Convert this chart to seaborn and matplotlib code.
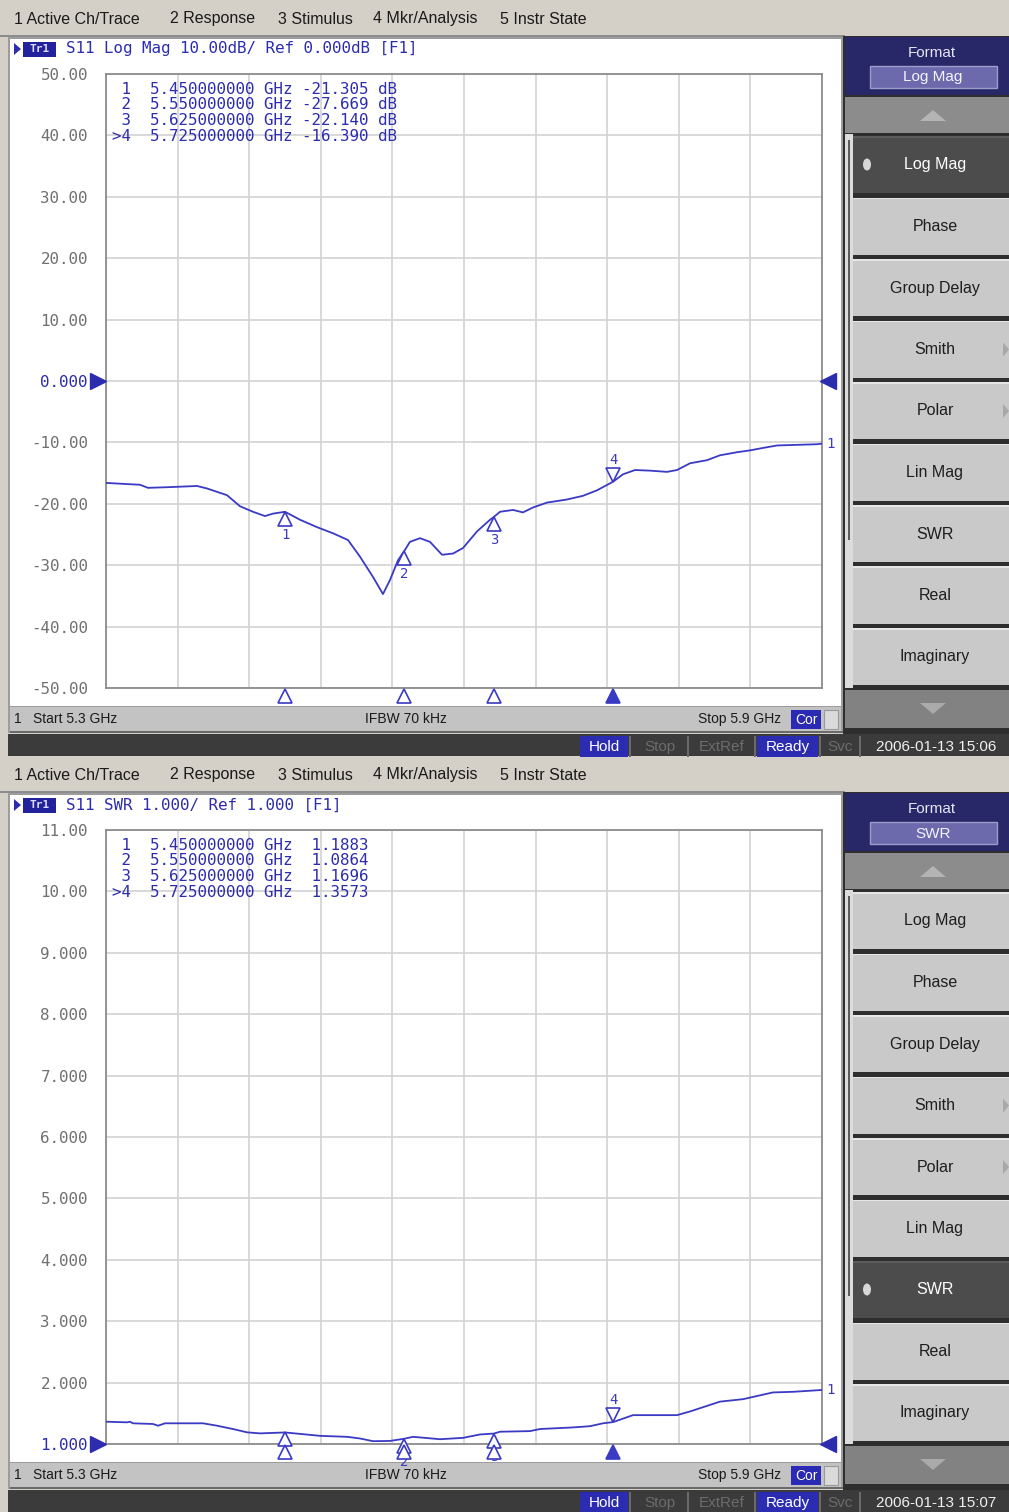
import numpy as np
import pandas as pd
import matplotlib
matplotlib.use("Agg")
import matplotlib.pyplot as plt
import seaborn as sns
from matplotlib.patches import Rectangle, Polygon, Circle
from matplotlib import transforms

# ------------------------------------------------------------------ data
freq_logmag_ghz = [5.300, 5.3285, 5.3352, 5.3511, 5.3763, 5.3846, 5.4014, 5.4123, 5.4232,
                   5.4332, 5.4399, 5.4500, 5.4626, 5.4768, 5.4902, 5.5028, 5.5128, 5.5237,
                   5.5321, 5.5380, 5.5447, 5.5500, 5.5547, 5.5631, 5.5715, 5.5816, 5.5908,
                   5.5992, 5.6109, 5.6218, 5.6250, 5.6302, 5.6411, 5.6494, 5.6578, 5.6696,
                   5.6863, 5.6997, 5.7115, 5.7250, 5.7332, 5.7433, 5.7559, 5.7701, 5.7785,
                   5.7894, 5.8036, 5.8145, 5.8288, 5.8397, 5.8506, 5.8623, 5.8791, 5.8958, 5.900]
s11_logmag_db = [-16.6, -16.9, -17.4, -17.3, -17.1, -17.5, -18.6, -20.4, -21.3,
                 -22.0, -21.6, -21.3, -22.6, -23.8, -24.8, -25.9, -28.6, -31.9,
                 -34.7, -32.4, -29.2, -27.67, -26.2, -25.6, -26.2, -28.3, -28.1,
                 -27.2, -24.5, -22.6, -22.14, -21.3, -21.0, -21.4, -20.6, -19.8,
                 -19.3, -18.7, -17.8, -16.39, -15.2, -14.5, -14.6, -14.8, -14.5,
                 -13.4, -12.9, -12.1, -11.6, -11.3, -10.9, -10.5, -10.4, -10.3, -10.2]

freq_swr_ghz = [5.300, 5.3176, 5.3201, 5.3226, 5.3394, 5.3436, 5.3494, 5.3813, 5.3930,
                5.4064, 5.4182, 5.4291, 5.4500, 5.4651, 5.4793, 5.5020, 5.5128, 5.5237,
                5.5380, 5.5500, 5.5573, 5.5799, 5.5992, 5.6134, 5.6250, 5.6302, 5.6553,
                5.6637, 5.6913, 5.7056, 5.7165, 5.7250, 5.7416, 5.7785, 5.7894, 5.8145,
                5.8338, 5.8589, 5.8757, 5.900]
s11_swr = [1.363, 1.353, 1.363, 1.337, 1.326, 1.298, 1.337, 1.337, 1.298,
           1.244, 1.190, 1.173, 1.188, 1.160, 1.133, 1.117, 1.090, 1.046,
           1.050, 1.086, 1.117, 1.078, 1.100, 1.155, 1.170, 1.200, 1.210,
           1.244, 1.270, 1.290, 1.337, 1.357, 1.470, 1.470, 1.530, 1.690,
           1.730, 1.840, 1.850, 1.880]

marker_numbers = [1, 2, 3, 4]
marker_freq_ghz = [5.450, 5.550, 5.625, 5.725]
marker_logmag_db = [-21.305, -27.669, -22.140, -16.390]
marker_swr = [1.1883, 1.0864, 1.1696, 1.3573]
active_marker = 4

freq_start_ghz, freq_stop_ghz = 5.3, 5.9
logmag_ticks = [50, 40, 30, 20, 10, 0, -10, -20, -30, -40, -50]
logmag_tick_labels = ["50.00", "40.00", "30.00", "20.00", "10.00", "0.000",
                      "-10.00", "-20.00", "-30.00", "-40.00", "-50.00"]
swr_ticks = [11, 10, 9, 8, 7, 6, 5, 4, 3, 2, 1]
swr_tick_labels = ["11.00", "10.00", "9.000", "8.000", "7.000", "6.000",
                   "5.000", "4.000", "3.000", "2.000", "1.000"]

menu_items = ["1 Active Ch/Trace", "2 Response", "3 Stimulus", "4 Mkr/Analysis", "5 Instr State"]
softkeys = ["Log Mag", "Phase", "Group Delay", "Smith", "Polar", "Lin Mag", "SWR", "Real", "Imaginary"]
submenu_keys = ["Smith", "Polar"]
headers = ["S11 Log Mag 10.00dB/ Ref 0.000dB [F1]", "S11 SWR 1.000/ Ref 1.000 [F1]"]
formats = ["Log Mag", "SWR"]
timestamps = ["2006-01-13 15:06", "2006-01-13 15:07"]
status_items = ["Hold", "Stop", "ExtRef", "Ready", "Svc"]
status_active = ["Hold", "Ready"]

# ------------------------------------------------------------------ style
sns.set_style("white")
MONO = ["DejaVu Sans Mono"]
SANS = ["Liberation Sans", "DejaVu Sans"]
plt.rcParams["font.family"] = SANS

W, H = 1009, 1512
BG = "#d4d0c8"
TRACE = "#3a3ac4"
TBLUE = "#2c2cae"
MONO_SIZE = 11.4
fig = plt.figure(figsize=(W / 100, H / 100), dpi=100, facecolor=BG)


def rect(x0, y0, x1, y1, fc, ec="none", lw=0, z=-5):
    fig.add_artist(Rectangle((x0 / W, 1 - y1 / H), (x1 - x0) / W, (y1 - y0) / H,
                             transform=fig.transFigure, facecolor=fc, edgecolor=ec,
                             linewidth=lw, zorder=z))


def tri(pts, fc, z=-4):
    fig.add_artist(Polygon([(x / W, 1 - y / H) for x, y in pts], closed=True,
                           transform=fig.transFigure, facecolor=fc, edgecolor="none", zorder=z))


def txt(x, y, s, size=11, color="#202020", ha="left", va="center", family=None, weight="normal", z=5):
    fig.text(x / W, 1 - y / H, s, size=size, color=color, ha=ha, va=va,
             family=family or SANS, weight=weight, zorder=z)


def draw_panel(k, oy, freqs, vals, ticks, ticklabels, ref_value, mvals, readout):
    # menu bar
    rect(0, oy, W, oy + 36, BG)
    for x, s in zip([14, 170, 278, 373, 500], menu_items):
        txt(x, oy + 19, s, size=11.5, color="#1a1a1a")
    rect(0, oy + 35, 845, oy + 37, "#8c8c8c")

    # chart window
    rect(8, oy + 37, 843, oy + 733, "#9c9c9c")
    rect(10, oy + 39, 841, oy + 706, "white")
    rect(10, oy + 707, 841, oy + 731, "#c3c3c3")
    rect(10, oy + 731, 843, oy + 733, "#6a6a6a")

    # header
    tri([(14, oy + 43), (14, oy + 55), (21, oy + 49)], TBLUE, z=-3)
    rect(23, oy + 42, 56, oy + 57, "#22229c", z=-3)
    txt(39.5, oy + 49.5, "Tr1", size=8, color="#dcdcff", ha="center", weight="bold", family=MONO)
    txt(66, oy + 49, headers[k], size=MONO_SIZE, color=TBLUE, family=MONO)

    # window status bar
    txt(14, oy + 719, "1", size=10, color="#1a1a1a")
    txt(33, oy + 719, "Start 5.3 GHz", size=10, color="#1a1a1a")
    txt(406, oy + 719, "IFBW 70 kHz", size=10, color="#1a1a1a", ha="center")
    txt(781, oy + 719, "Stop 5.9 GHz", size=10, color="#1a1a1a", ha="right")
    rect(791, oy + 710, 821, oy + 729, "#2a2ab4", z=-3)
    txt(806, oy + 719.5, "Cor", size=10, color="white", ha="center")
    rect(824, oy + 710, 838, oy + 729, "#dadada", ec="#9a9a9a", lw=0.8, z=-3)

    # dark status bar
    rect(8, oy + 734, W, oy + 758, "#3b3b3b")
    xs = [(580, 628), (633, 686), (691, 753), (757, 818), (822, 858)]
    for (a, b), s in zip(xs, status_items):
        if s in status_active:
            rect(a, oy + 736, b, oy + 757, "#2c2cb2", z=-3)
            txt((a + b) / 2, oy + 747, s, size=11, color="white", ha="center")
        else:
            txt((a + b) / 2, oy + 747, s, size=11, color="#6c6c6c", ha="center")
        rect(b + 1, oy + 736, b + 2.5, oy + 757, "#6a6a6a", z=-3)
    txt(936, oy + 747, timestamps[k], size=11, color="#f0f0f0", ha="center")

    # right softkey panel
    rect(843, oy + 36, W, oy + 734, "#2e2e2e")
    rect(845, oy + 37, W, oy + 95, "#282868")
    txt(932, oy + 53, "Format", size=11, color="#e4e4f4", ha="center")
    rect(870, oy + 66, 997, oy + 88, "#6c6aac", ec="#9c9ccc", lw=1, z=-3)
    txt(933, oy + 77.5, formats[k], size=11, color="#f4f4ff", ha="center")
    rect(845, oy + 97, W, oy + 133, "#8c8c8c")
    tri([(920, oy + 121), (946, oy + 121), (933, oy + 110)], "#b4b4b4")
    rect(845, oy + 134, 853, oy + 688, "#dcdcdc")
    rect(848, oy + 140, 850, oy + 540, "#5a5a5a")
    for i, s in enumerate(softkeys):
        top = oy + 136 + i * 61.5
        bot = top + 57
        sel = (s == formats[k])
        rect(853, top, W, bot, "#4c4c4c" if sel else "#c9c9c9")
        rect(853, top, W, top + 1.5, "#e6e6e6" if not sel else "#5c5c5c", z=-4)
        if sel:
            fig.add_artist(Circle((867 / W, 1 - (top + 28.5) / H), 4 / W,
                                  transform=fig.transFigure, facecolor="#d8d8d8",
                                  edgecolor="none", zorder=-3))
        txt(935, top + 29, s, size=11.5, color="white" if sel else "#1e1e1e", ha="center")
        if s in submenu_keys:
            tri([(1003, top + 22), (1003, top + 36), (1009, top + 29)], "#a8a8a8", z=-3)
    rect(845, oy + 690, W, oy + 728, "#828282")
    tri([(920, oy + 703), (946, oy + 703), (933, oy + 714)], "#aaaaaa")

    # plot axes
    ax = fig.add_axes([106 / W, 1 - (oy + 688) / H, 716 / W, 614 / H])
    ax.set_facecolor("white")
    df = pd.DataFrame({"freq": freqs, "val": vals})
    sns.lineplot(data=df, x="freq", y="val", ax=ax, color=TRACE, lw=1.3,
                 estimator=None, sort=False, zorder=4)
    ax.set_xlim(freq_start_ghz, freq_stop_ghz)
    ax.set_ylim(ticks[-1], ticks[0])
    ax.set_xticks(np.linspace(freq_start_ghz, freq_stop_ghz, 11))
    ax.set_xticklabels([])
    ax.set_yticks(ticks)
    ax.set_yticklabels(ticklabels, family=MONO, size=MONO_SIZE, color="#707070")
    for lab, t in zip(ax.get_yticklabels(), ticks):
        if t == ref_value:
            lab.set_color(TBLUE)
    ax.tick_params(length=0, pad=13)
    ax.set_xlabel("")
    ax.set_ylabel("")
    ax.grid(True, color="#d2d2d2", lw=1.2)
    for sp in ax.spines.values():
        sp.set_visible(True)
        sp.set_color("#8c8c8c")
        sp.set_linewidth(1.3)

    # markers on trace
    for n, f, v in zip(marker_numbers, marker_freq_ghz, mvals):
        if n == active_marker:
            tr = transforms.offset_copy(ax.transData, fig=fig, x=0, y=7, units="dots")
            ax.plot([f], [v], marker="v", ms=9.5, mfc="white", mec=TRACE, mew=1.2,
                    transform=tr, clip_on=False, zorder=6)
            ax.annotate(str(n), (f, v), xytext=(0, 22), textcoords="offset pixels",
                        ha="center", va="center", color=TRACE, size=10, family=MONO,
                        annotation_clip=False, zorder=6)
        else:
            tr = transforms.offset_copy(ax.transData, fig=fig, x=0, y=-7, units="dots")
            ax.plot([f], [v], marker="^", ms=9.5, mfc="white", mec=TRACE, mew=1.2,
                    transform=tr, clip_on=False, zorder=6)
            ax.annotate(str(n), (f, v), xytext=(0, -23), textcoords="offset pixels",
                        ha="center", va="center", color=TRACE, size=10, family=MONO,
                        annotation_clip=False, zorder=6)
        # marker indicators under the x axis
        bt = transforms.offset_copy(transforms.blended_transform_factory(ax.transData, ax.transAxes),
                                    fig=fig, x=0, y=-8, units="dots")
        ax.plot([f], [0], marker="^", ms=10, mfc=TRACE if n == active_marker else "white",
                mec=TRACE, mew=1.2, transform=bt, clip_on=False, zorder=6)

    # reference level arrows
    lt = transforms.offset_copy(transforms.blended_transform_factory(ax.transAxes, ax.transData),
                                fig=fig, x=-8, y=0, units="dots")
    ax.plot([0], [ref_value], marker=">", ms=11, color=TBLUE, transform=lt, clip_on=False, zorder=6)
    rt = transforms.offset_copy(transforms.blended_transform_factory(ax.transAxes, ax.transData),
                                fig=fig, x=6, y=0, units="dots")
    ax.plot([1], [ref_value], marker="<", ms=11, color=TBLUE, transform=rt, clip_on=False, zorder=6)

    # trace number at trace end
    ax.annotate("1", (freqs[-1], vals[-1]), xytext=(4, 0), textcoords="offset pixels",
                ha="left", va="center", color=TRACE, size=10, family=MONO,
                annotation_clip=False, zorder=6)

    # marker readout
    for i, s in enumerate(readout):
        txt(112, oy + 89 + i * 15.7, s, size=MONO_SIZE, color=TBLUE, family=MONO, z=6)


readout_logmag = [f"{'>' if n == active_marker else ' '}{n}  {f:.9f} GHz {v:.3f} dB"
                  for n, f, v in zip(marker_numbers, marker_freq_ghz, marker_logmag_db)]
readout_swr = [f"{'>' if n == active_marker else ' '}{n}  {f:.9f} GHz  {v:.4f}"
               for n, f, v in zip(marker_numbers, marker_freq_ghz, marker_swr)]

draw_panel(0, 0, freq_logmag_ghz, s11_logmag_db, logmag_ticks, logmag_tick_labels, 0,
           marker_logmag_db, readout_logmag)
draw_panel(1, 756, freq_swr_ghz, s11_swr, swr_ticks, swr_tick_labels, 1,
           marker_swr, readout_swr)

fig.savefig("out.png", dpi=100, facecolor=BG)
